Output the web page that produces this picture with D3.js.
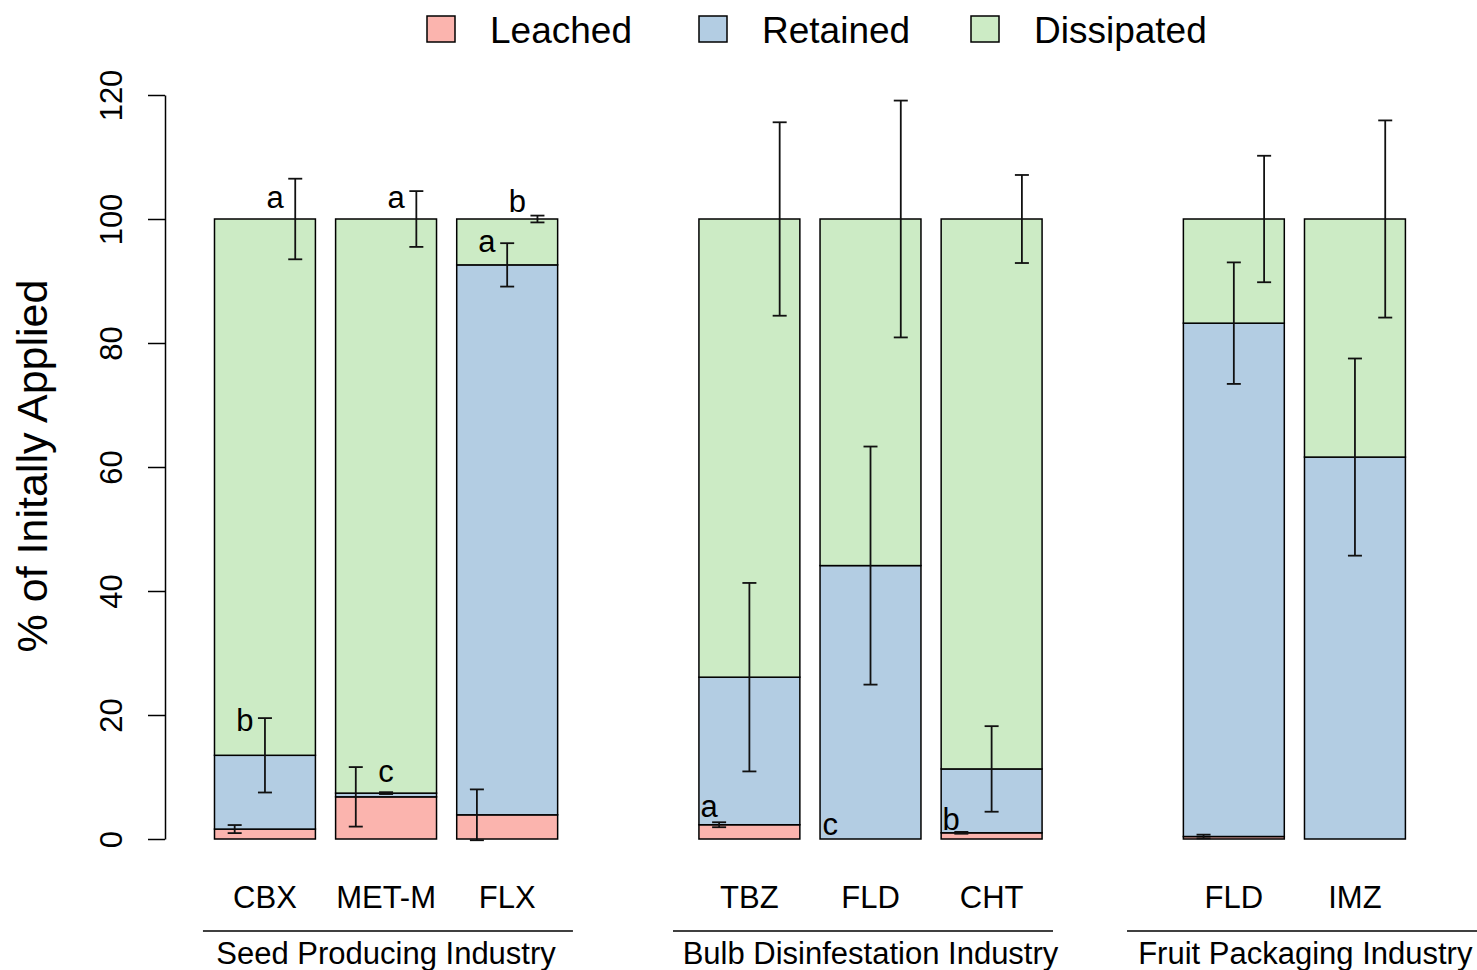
<!DOCTYPE html>
<html>
<head>
<meta charset="utf-8">
<script src="https://cdn.jsdelivr.net/npm/d3@7"></script>
<style>
  html, body { margin: 0; padding: 0; background: #fff; }
  svg { display: block; font-family: "Liberation Sans", Arial, Helvetica, sans-serif; }
</style>
</head>
<body>
<svg id="chart" width="1477" height="970"></svg>
<script>
// Fate of each fungicide, as % of the amount initially applied
const compounds   = ["CBX", "MET-M", "FLX", "TBZ", "FLD", "CHT", "FLD", "IMZ"];
const industryOf  = [0, 0, 0, 1, 1, 1, 2, 2];
const industries  = ["Seed Producing Industry", "Bulb Disinfestation Industry", "Fruit Packaging Industry"];

const leached      = [1.6, 6.8, 3.9, 2.3, 0.0, 1.0, 0.4, 0.0];
const retained     = [11.9, 0.6, 88.7, 23.8, 44.1, 10.3, 82.8, 61.6];
const dissipated   = [86.5, 92.6, 7.4, 73.9, 55.9, 88.7, 16.8, 38.4];

const leachedSD    = [0.65, 4.8, 4.1, 0.4, 0.0, 0.15, 0.3, 0.0];
const retainedSD   = [6.0, 0.15, 3.5, 15.2, 19.2, 6.9, 9.8, 15.9];
const dissipatedSD = [6.5, 4.5, 0.55, 15.6, 19.1, 7.1, 10.2, 15.9];

const layers     = ["Leached", "Retained", "Dissipated"];
const layerFill  = ["#FBB4AE", "#B3CDE3", "#CCEBC5"];
const yTicks     = [0, 20, 40, 60, 80, 100, 120];

// Significance letters: bar index, layer, letter, baseline height (%)
const letters = [
  { bar: 0, layer: 2, text: "a", at: 101.7 },
  { bar: 0, layer: 1, text: "b", at: 17.5 },
  { bar: 1, layer: 2, text: "a", at: 101.7 },
  { bar: 1, layer: 1, text: "c", at: 9.2, centred: true },
  { bar: 2, layer: 2, text: "b", at: 101.2 },
  { bar: 2, layer: 1, text: "a", at: 94.7 },
  { bar: 3, layer: 0, text: "a", at: 3.5 },
  { bar: 4, layer: 0, text: "c", at: 0.65 },
  { bar: 5, layer: 0, text: "b", at: 1.45 }
];

const svg = d3.select("#chart");

// Bars sit in slots; an empty slot separates the industries
const slots = [];
compounds.forEach((c, i) => {
  if (i > 0 && industryOf[i] !== industryOf[i - 1]) slots.push("gap" + i);
  slots.push("bar" + i);
});
const x = d3.scaleBand()
  .domain(slots)
  .range([204.4, 1415.5])
  .paddingInner(1 / 6)
  .paddingOuter(1 / 12);
const bw = x.bandwidth();
const cx = i => x("bar" + i) + bw / 2;

// slot-unit coordinate -> pixel (0 = centre of first bar)
const slotPx = d3.scaleLinear().domain([0, 1]).range([cx(0), cx(0) + x.step()]);

const y = d3.scaleLinear().domain([0, 120]).range([839, 95]);

// Stacked data
const rows = compounds.map((c, i) => ({
  i, Leached: leached[i], Retained: retained[i], Dissipated: dissipated[i]
}));
const stack = d3.stack().keys(layers)(rows);
const sds = [leachedSD, retainedSD, dissipatedSD];

// Bars
stack.forEach((series, k) => {
  svg.append("g")
    .selectAll("rect")
    .data(series)
    .join("rect")
    .attr("x", d => x("bar" + d.data.i))
    .attr("width", bw)
    .attr("y", d => y(d[1]))
    .attr("height", d => y(d[0]) - y(d[1]))
    .attr("fill", layerFill[k])
    .attr("stroke", "#000")
    .attr("stroke-width", 1.5);
});

// Error bars at the top of each layer
const errOffset = [-0.3, 0, 0.3];
const cap = 7;
const eg = svg.append("g").attr("stroke", "#111").attr("stroke-width", 1.8).attr("fill", "none");
stack.forEach((series, k) => {
  series.forEach(d => {
    const sd = sds[k][d.data.i];
    if (!(sd > 0)) return;
    const ex = cx(d.data.i) + errOffset[k] * bw;
    const hi = y(d[1] + sd), lo = y(d[1] - sd);
    eg.append("line").attr("x1", ex).attr("x2", ex).attr("y1", hi).attr("y2", lo);
    eg.append("line").attr("x1", ex - cap).attr("x2", ex + cap).attr("y1", hi).attr("y2", hi);
    eg.append("line").attr("x1", ex - cap).attr("x2", ex + cap).attr("y1", lo).attr("y2", lo);
  });
});

// Letters, set just left of their error bar
const letterShift = [-0.1, -0.2, -0.2];
svg.append("g")
  .selectAll("text")
  .data(letters)
  .join("text")
  .attr("x", d => cx(d.bar) + (errOffset[d.layer] + (d.centred ? 0 : letterShift[d.layer])) * bw)
  .attr("y", d => y(d.at))
  .attr("text-anchor", "middle")
  .attr("font-size", 31)
  .text(d => d.text);

// Y axis
const yAxis = svg.append("g")
  .attr("transform", "translate(165,0)")
  .call(d3.axisLeft(y).tickValues(yTicks).tickSize(17).tickSizeOuter(0).tickFormat(d3.format("d")));
yAxis.select(".domain").attr("stroke", "#000").attr("stroke-width", 1.5);
yAxis.selectAll(".tick line").attr("stroke", "#000").attr("stroke-width", 1.5);
yAxis.selectAll(".tick text")
  .attr("x", null).attr("dy", null)
  .attr("transform", "translate(-43,0) rotate(-90)")
  .attr("text-anchor", "middle")
  .attr("font-size", 31)
  .attr("font-family", "Liberation Sans, Arial, sans-serif")
  .attr("fill", "#000");

svg.append("text")
  .attr("transform", "translate(47,466) rotate(-90)")
  .attr("text-anchor", "middle")
  .attr("font-size", 43)
  .text("% of Initally Applied");

// Compound names under the bars
svg.append("g")
  .selectAll("text")
  .data(compounds)
  .join("text")
  .attr("x", (d, i) => cx(i))
  .attr("y", 908)
  .attr("text-anchor", "middle")
  .attr("font-size", 31)
  .text(d => d);

// Industry rules and names (extent in slot units)
const groupRule  = [[-0.512, 2.543], [3.369, 6.507], [7.118, 10.2]];
const groupLabel = [1.0, 5.0, 8.59];
const gg = svg.append("g");
industries.forEach((name, g) => {
  gg.append("line")
    .attr("x1", slotPx(groupRule[g][0])).attr("x2", slotPx(groupRule[g][1]))
    .attr("y1", 931).attr("y2", 931)
    .attr("stroke", "#000").attr("stroke-width", 1.5);
  gg.append("text")
    .attr("x", slotPx(groupLabel[g]))
    .attr("y", 964)
    .attr("text-anchor", "middle")
    .attr("font-size", 31)
    .text(name);
});

// Legend
const legend = svg.append("g");
layers.forEach((name, k) => {
  const lx = 427 + k * 272;
  legend.append("rect")
    .attr("x", lx).attr("y", 16).attr("width", 28).attr("height", 26)
    .attr("fill", layerFill[k]).attr("stroke", "#000").attr("stroke-width", 1.5);
  legend.append("text")
    .attr("x", lx + 63).attr("y", 43)
    .attr("font-size", 37)
    .text(name);
});
</script>
</body>
</html>
